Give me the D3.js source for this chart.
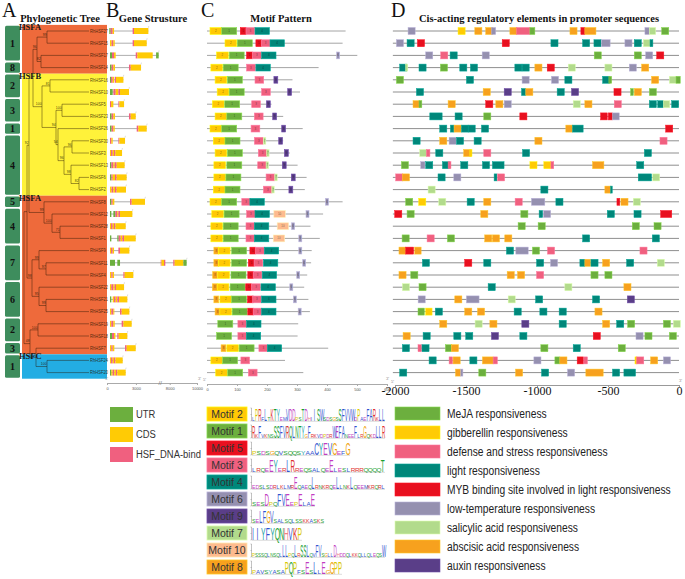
<!DOCTYPE html>
<html><head><meta charset="utf-8">
<script src="https://cdn.jsdelivr.net/npm/d3@7"></script>
<style>body{margin:0;background:#fff}svg{display:block}</style>
</head><body><svg id="c" width="685" height="579"></svg>
<script>
// ---------------- DATA ----------------
const genes = ["RhHSF27","RhHSF15","RhHSF17","RhHSF14","RhHSF16","RhHSF10","RhHSF5","RhHSF23","RhHSF26","RhHSF30","RhHSF3","RhHSF13","RhHSF6","RhHSF2","RhHSF8","RhHSF12","RhHSF28","RhHSF1","RhHSF9","RhHSF11","RhHSF4","RhHSF22","RhHSF21","RhHSF25","RhHSF19","RhHSF18","RhHSF7","RhHSF24","RhHSF20"];
const cladeBands = [["HSFA",0,3],["HSFB",4,13],["HSFA",14,26],["HSFC",27,28]];
const subGroups = [["1",0,2],["8",3,3],["2",4,5],["3",6,7],["1",8,8],["4",9,13],["5",14,14],["4",15,17],["7",18,20],["6",21,23],["2",24,25],["3",26,26],["1",27,28]];
// tree: d = node depth, b = bootstrap
const tree = {d:4,b:"",c:[
  {d:7,b:"",c:[
    {d:9,b:"92",c:[
      {d:13,b:"83",c:[
        {d:17,b:"96",c:[{d:27,b:"99",c:["RhHSF27","RhHSF15"]},{d:21,b:"82",c:["RhHSF17","RhHSF14"]}]},
        {d:22,b:"100",c:[
          {d:30,b:"81",c:["RhHSF16","RhHSF10"]},
          {d:36,b:"94",c:[
            {d:42,b:"100",c:["RhHSF5","RhHSF23"]},
            {d:38,b:"54",c:["RhHSF26",
              {d:44,b:"96",c:[{d:52,b:"96",c:["RhHSF30","RhHSF3"]},{d:51,b:"98",c:["RhHSF13",{d:59,b:"82",c:["RhHSF6","RhHSF2"]}]}]}]}]}]}]},
      {d:24,b:"99",c:["RhHSF8",{d:32,b:"100",c:["RhHSF12",{d:40,b:"71",c:["RhHSF28","RhHSF1"]}]}]}]},
    {d:12,b:"98",c:[
      {d:19,b:"99",c:["RhHSF9",{d:26,b:"97",c:["RhHSF11","RhHSF4"]}]},
      {d:19,b:"95",c:["RhHSF22",{d:26,b:"99",c:["RhHSF21","RhHSF25"]}]}]}]},
  {d:10,b:"48",c:[
    {d:18,b:"100",c:["RhHSF19","RhHSF18"]},
    {d:16,b:"42",c:["RhHSF7",{d:27,b:"100",c:["RhHSF24","RhHSF20"]}]}]}]};
const leafDepth = 69;

// gene structure: [start, end, type] in bp; U = UTR, C = CDS, H = HSF_DNA-bind
const geneStructure = [
 [[240,380,"U"],[380,590,"H"],[590,730,"C"],[2660,2800,"H"],[2800,4290,"C"]],
 [[310,480,"C"],[480,660,"H"],[660,800,"C"],[2660,2800,"H"],[2800,4120,"C"]],
 [[310,520,"U"],[520,730,"H"],[730,900,"C"],[2980,3150,"H"],[3150,4740,"C"],[5090,5360,"U"]],
 [[310,480,"U"],[480,660,"H"],[660,830,"C"],[2280,2460,"H"],[2460,3530,"C"]],
 [[310,420,"U"],[420,590,"H"],[590,730,"C"],[800,930,"H"],[930,1700,"C"]],
 [[310,590,"U"],[660,900,"H"],[900,1180,"C"],[1180,1350,"H"],[1350,2280,"C"]],
 [[310,420,"H"],[420,660,"C"],[1180,1280,"H"],[1280,1770,"C"]],
 [[310,480,"U"],[480,660,"H"],[660,830,"C"],[2280,2460,"H"],[2460,2980,"C"]],
 [[310,480,"U"],[480,660,"H"],[660,800,"C"],[3080,3250,"H"],[3250,4120,"C"]],
 [[310,450,"H"],[450,590,"C"],[1180,1280,"H"],[1280,1870,"C"]],
 [[310,420,"C"],[420,590,"H"],[590,730,"C"],[730,870,"H"],[870,1560,"C"]],
 [[310,450,"U"],[450,660,"H"],[660,800,"C"],[800,1000,"H"],[1000,1830,"C"]],
 [[310,450,"U"],[450,590,"H"],[590,830,"C"],[830,1000,"H"],[1000,2040,"C"]],
 [[310,480,"C"],[480,660,"H"],[660,830,"C"],[830,1000,"H"],[1000,1970,"C"]],
 [[310,450,"U"],[450,590,"H"],[590,760,"C"],[2390,2560,"H"],[2560,3940,"C"]],
 [[310,450,"U"],[660,870,"U"],[870,1070,"H"],[1070,1180,"C"],[1180,1350,"H"],[1350,2630,"C"]],
 [[310,420,"C"],[420,590,"H"],[590,730,"C"],[730,870,"H"],[870,1940,"C"]],
 [[310,450,"U"],[1070,1210,"U"],[1210,1420,"H"],[1420,1590,"C"],[1590,1770,"H"],[1770,2980,"C"]],
 [[310,420,"C"],[420,590,"H"],[590,730,"C"],[1180,1350,"H"],[1350,2320,"C"]],
 [[310,830,"U"],[1070,1350,"U"],[5570,5800,"H"],[5800,6700,"C"],[6700,7180,"H"],[8260,8360,"H"],[8360,9000,"C"],[9000,9240,"U"]],
 [[310,450,"C"],[450,590,"H"],[590,730,"C"],[1700,1830,"H"],[1830,2730,"C"]],
 [[310,450,"C"],[450,660,"H"],[660,800,"C"],[800,930,"H"],[930,1770,"C"]],
 [[310,450,"U"],[590,730,"C"],[730,900,"H"],[900,1070,"C"],[1070,1250,"H"],[1250,2110,"C"]],
 [[310,450,"C"],[450,660,"H"],[660,760,"C"],[1350,1520,"H"],[1520,2320,"C"]],
 [[310,450,"C"],[450,660,"H"],[660,800,"C"],[1520,1700,"H"],[1700,2560,"C"]],
 [[310,520,"U"],[520,730,"H"],[730,870,"C"],[1070,1210,"H"],[1210,2110,"C"]],
 [[310,450,"C"],[450,590,"H"],[590,760,"C"],[1870,2040,"H"],[2040,2980,"C"]],
 [[310,420,"C"],[420,590,"H"],[590,730,"C"],[730,870,"H"],[870,1630,"C"]],
 [[310,450,"U"],[450,590,"C"],[590,760,"H"],[760,930,"C"],[930,1070,"H"],[1070,1940,"C"]]
];
const geneTicks = [0,3000,8000,10000];
const geneLegend = ["UTR","CDS","HSF_DNA-bind"];

// motifs
const motifOrder = [2,1,5,3,4,6,9,7,10,8];
const motifLength = {1:50,2:39,3:29,4:48,5:19,6:10,7:8,8:16,9:13,10:38};
const proteinLength = [462,452,501,372,285,310,215,254,319,254,276,302,332,326,452,387,345,376,349,347,334,324,338,343,304,302,404,260,321];
const motifSites = [
 [[2,10],[1,49],[5,111],[3,130],[4,160]],
 [[2,60],[1,101],[5,163],[3,181],[4,210]],
 [[2,32],[1,74],[5,132],[3,152],[4,182],[6,432]],
 [[2,13],[1,54],[3,132],[4,163]],
 [[2,27],[1,68],[3,160],[9,223]],
 [[2,34],[1,74],[3,182],[9,269]],
 [[2,18],[1,59],[3,149],[9,198]],
 [[2,27],[1,66],[3,158],[9,219]],
 [[2,10],[1,49],[3,147],[9,249]],
 [[2,21],[1,60],[3,158],[7,188],[9,239]],
 [[2,27],[1,68],[3,171],[7,199],[9,258]],
 [[2,23],[1,66],[3,169],[7,197],[9,251]],
 [[2,23],[1,63],[3,197],[7,226],[9,281]],
 [[2,21],[1,60],[3,188],[7,216],[9,273]],
 [[2,10],[1,49],[3,116],[4,143],[6,395]],
 [[2,16],[1,57],[3,132],[4,160],[10,223],[6,330]],
 [[2,13],[1,54],[3,130],[4,158],[10,234],[6,282]],
 [[2,13],[1,54],[3,130],[4,158],[10,221],[6,306]],
 [[8,23],[2,38],[1,82],[5,143],[3,162],[4,191],[6,306]],
 [[8,23],[2,38],[1,82],[5,138],[3,157],[4,188],[6,319]],
 [[8,19],[2,36],[1,80],[5,136],[3,154],[4,184],[6,299]],
 [[8,18],[2,34],[1,77],[5,129],[3,149],[4,180],[6,276]],
 [[8,23],[2,43],[1,82],[5,135],[3,152],[4,182],[6,288]],
 [[8,27],[2,43],[1,84],[5,136],[3,154],[4,182],[6,304]],
 [[1,36],[3,103],[4,132]],
 [[1,32],[3,103],[4,131]],
 [[8,47],[2,66],[1,107],[3,173],[4,201]],
 [[2,13],[1,52],[3,113]],
 [[2,29],[1,69],[3,138]]
];
const motifTicks = [0,100,200,300,400,500,600];
// sequence logos (upper case = tall position, lower case = low information)
const motifLogos = {
 2:"lPRfLtKTYemVDDpsTDhiISWsdsgsSFVVWdPaeFARkLL",
 1:"RkFvknsSSFVRQLNTYgFrkvdpdrWEFAneeFlrGqkdLLR",
 5:"psdsgqvsqqsyaaCYEVGefG",
 3:"lrqeEYerLRreqsalqeEleslrrrqqqqT",
 4:"edslsdrlklmrEqaeqLrnkrqeLlnkLqeemkrqrl",
 6:"sesDpqFVEepElaE",
 9:"seLFGVsalsqlsskkasks",
 7:"IIYFYQNHVKP",
 10:"psssqlnsqlLLpqLrSSLqvFVsgllDhddqlkkqllqleqsW",
 8:"pavsyasaPQPfsEsLlEgGPP"
};

// cis-acting elements
const cisTypes = ["M","G","D","L","Y","T","S","A","X"];
const cisNames = ["MeJA responsiveness","gibberellin responsiveness","defense and stress responsiveness","light responsiveness","MYB binding site involved in light responsiveness","low-temperature responsiveness","salicylic acid responsiveness","abscisic acid responsiveness","auxin responsiveness"];
// [type, start (bp upstream), width bp (default 50)]
const cisElements = [
 [["T",-1908],["G",-1556],["A",-1438],["A",-1361],["T",-1321,30],["A",-1191],["D",-1144,95],["M",-1050,35],["A",-768],["Y",-691,28],["A",-663,78],["T",-240,30],["S",-209,45],["M",-122]],
 [["T",-1990],["L",-1915],["Y",-1842],["Y",-1245],["L",-902],["L",-679],["L",-599],["T",-545,60],["T",-381],["L",-315],["S",-251],["L",-204,20]],
 [["T",-1784],["D",-1678],["L",-1612],["T",-1386],["M",-597],["M",-315],["T",-235],["Y",-157]],
 [["L",-1967],["S",-1925,15],["L",-1831],["M",-1680],["L",-1544],["L",-1469],["L",-1156],["L",-1105],["A",-1015],["Y",-928],["S",-780],["S",-522],["T",-350],["A",-263]],
 [["M",-1990],["L",-1497],["T",-1105],["T",-898],["L",-804],["L",-538],["M",-494,20],["A",-193],["S",-68],["M",-21,30]],
 [["L",-1849],["A",-1379],["X",-1231],["L",-1109,30],["A",-1079],["L",-858],["X",-757],["Y",-458],["M",-341,20],["A",-315],["M",-209]],
 [["A",-1873],["M",-1831,20],["A",-1626],["Y",-1361],["A",-1290],["T",-1231],["S",-745],["A",-663],["D",-456],["L",-209],["L",-150,40],["S",-110,45],["L",-52]],
 [["L",-1755,87],["L",-1577],["M",-1375],["Y",-1121],["Y",-552,47],["Y",-498,30],["T",-468,47]],
 [["L",-1685],["L",-1610,25],["A",-1584],["L",-1532],["L",-1485],["L",-1391],["A",-797,47],["L",-750,75],["Y",-94]],
 [["L",-1873],["A",-1685],["T",-1619],["L",-1567],["L",-1443],["A",-1015],["D",-134]],
 [["S",-1826],["D",-1779,25],["L",-1713],["A",-1516],["G",-1473,15],["D",-1375],["L",-1102],["L",-244]],
 [["M",-1955],["T",-1819,30],["L",-1784],["L",-1666],["D",-1626,20],["L",-1537],["L",-1384],["L",-1314,82],["G",-1050],["G",-952],["D",-902,20],["A",-609,80],["L",-298]],
 [["D",-1995],["A",-1948],["L",-1697],["T",-1586],["L",-1302,20],["D",-1278],["L",-287,94],["S",-186]],
 [["S",-1767],["L",-973],["A",-522,40],["L",-482,12]],
 [["M",-1925],["G",-1833],["S",-1692],["L",-1492],["A",-1375],["D",-1154],["T",-1039,94],["L",-867],["Y",-437,20],["A",-409],["S",-322]],
 [["Y",-2002],["M",-1915],["A",-1396],["M",-1114],["L",-985,25],["T",-954],["L",-505],["L",-317],["Y",-129,78]],
 [["M",-1133],["M",-992],["M",-329],["M",-176]],
 [["M",-1950],["D",-1774],["M",-1631],["A",-1368],["A",-1314],["A",-1227],["L",-679],["L",-188]],
 [["A",-1972,47],["Y",-1925,56],["A",-1861,45],["L",-1215],["T",-1149,87],["M",-1032],["D",-926],["D",-275]],
 [["L",-1807],["Y",-1509],["L",-1375],["L",-1003],["T",-905],["L",-698,35],["A",-663,40],["L",-620],["A",-538],["L",-369],["S",-153]],
 [["A",-1972],["M",-1889],["A",-1210],["A",-1137],["D",-1003],["M",-620],["M",-522]],
 [["S",-1948],["M",-1831],["L",-1344],["S",-804],["A",-388]],
 [["T",-1837],["A",-1579],["T",-1497,89],["S",-1203],["L",-1010],["L",-609],["X",-364]],
 [["M",-1838,45],["G",-1784,45],["L",-1716],["A",-1509],["A",-1419],["L",-1161],["L",-980],["L",-844],["A",-592]],
 [["A",-1685],["S",-1436],["A",-1332],["X",-1107],["L",-844],["A",-538],["L",-439],["M",-362],["M",-110],["S",-40]],
 [["A",-1943],["L",-1802],["L",-1586],["L",-1502],["X",-1321],["L",-1121],["Y",-604],["T",-303],["M",-240],["M",-68]],
 [["L",-1948],["D",-1838,25],["L",-1810],["M",-1645,42],["A",-1603],["M",-973],["L",-745],["M",-428]],
 [["L",-1760],["D",-1619,25],["A",-1591],["L",-1473],["A",-1384,75],["D",-1309,30],["T",-1022],["M",-874,35],["A",-839],["Y",-717,45],["D",-670,25],["G",-310,15],["D",-298],["A",-200],["T",-110]],
 [["L",-1967],["A",-1574,37],["T",-1537,15],["M",-1410],["A",-1151],["L",-968],["T",-785],["A",-656,122],["L",-468],["L",-388,82]]
];
const cisTicks = [-2000,-1500,-1000,-500,0];

// ---------------- STYLE ----------------
const serif = "'Liberation Serif','Times New Roman',serif";
const sans = "'Liberation Sans',Arial,sans-serif";
const bandColor = {HSFA:"#EE6A3B",HSFB:"#FFF23A",HSFC:"#23ADE3"};
const structColor = {U:"#6CAF3E",C:"#FFCB05",H:"#F0607F"};
const motifColor = {2:"#FFC905",1:"#6CAF3E",5:"#E8101F",3:"#F0607F",4:"#00877A",6:"#9590B0",9:"#5A3E88",7:"#B2DB8C",10:"#FDBB8E",8:"#F7A11E"};
const cisColor = {M:"#6CAF3E",G:"#FFCB05",D:"#F0607F",L:"#00877A",Y:"#E8101F",T:"#9590B0",S:"#B2DB8C",A:"#F7A11E",X:"#5A3E88"};
const aaColor = c => {c=c.toUpperCase();
  if ("ACFILMVW".includes(c)) return "#2F52CF";
  if ("NQST".includes(c)) return "#18A030";
  if ("DE".includes(c)) return "#C23BC2";
  if ("KR".includes(c)) return "#E0302E";
  if (c==="H") return "#F08080";
  if (c==="G") return "#F0A000";
  if (c==="P") return "#D8C800";
  return "#15A0A5";};

const svg = d3.select("#c");
const y = d3.scalePoint().domain(genes).range([31,372.6]);
const rowH = y.step();

function narrowText(g, x, yy, str, size, fill, anchor, sx){
  return g.append("text").attr("transform",`translate(${x},${yy}) scale(${sx||0.82},1)`)
    .attr("font-family",sans).attr("font-size",size).attr("fill",fill||"#222")
    .attr("text-anchor",anchor||"start").text(str);
}

// panel letters and titles
[["A",2],["B",106],["C",201],["D",391]].forEach(([t,x])=>{
  svg.append("text").attr("x",x).attr("y",17).attr("font-family",serif).attr("font-size",20).attr("fill","#111").text(t);
});
[["Phylogenetic Tree",60],["Gene Strusture",153],["Motif Pattern",281],["Cis-acting regulatory elements in promoter sequences",539]].forEach(([t,x])=>{
  svg.append("text").attr("x",x).attr("y",22).attr("text-anchor","middle").attr("font-family",serif)
    .attr("font-weight","bold").attr("font-size",10.5).attr("fill","#111").text(t);
});

// ---------------- PANEL A ----------------
const gA = svg.append("g");
const tx = d3.scaleLinear().domain([0,70]).range([20,90]);
cladeBands.forEach(([name,a,b])=>{
  const y0 = y(genes[a])-rowH/2, y1 = y(genes[b])+rowH/2;
  gA.append("rect").attr("x",22).attr("y",y0).attr("width",85).attr("height",y1-y0).attr("fill",bandColor[name]);
});
subGroups.forEach(([lab,a,b])=>{
  const y0 = y(genes[a])-rowH/2+0.9, y1 = y(genes[b])+rowH/2-0.9;
  gA.append("rect").attr("x",5).attr("y",y0).attr("width",15).attr("height",y1-y0).attr("fill","#3E8D5D").attr("rx",1.5);
  gA.append("text").attr("x",12.5).attr("y",(y0+y1)/2+3.5).attr("text-anchor","middle").attr("font-family",serif)
    .attr("font-weight","bold").attr("font-size",10).attr("fill","#111").text(lab);
});
const root = d3.hierarchy(tree, d => typeof d === "string" ? null : d.c);
root.eachAfter(n=>{
  if (!n.children){ n.py = y(n.data); n.px = tx(leafDepth); }
  else { n.py = (n.children[0].py + n.children[n.children.length-1].py)/2; n.px = tx(n.data.d); }
});
const lineCol = "rgba(40,20,0,0.55)";
root.each(n=>{
  if (!n.children) return;
  gA.append("line").attr("x1",n.px).attr("x2",n.px).attr("y1",n.children[0].py).attr("y2",n.children[n.children.length-1].py)
    .attr("stroke",lineCol).attr("stroke-width",0.8);
  n.children.forEach(ch=>{
    gA.append("line").attr("x1",n.px).attr("x2",ch.px).attr("y1",ch.py).attr("y2",ch.py).attr("stroke",lineCol).attr("stroke-width",0.8);
  });
});
root.each(n=>{
  if (n.children && n.data.b) narrowText(gA, n.px-0.4, n.py-1.2, n.data.b, 4.2, "rgba(30,15,0,0.85)", "end");
});
root.leaves().forEach(l=>{ narrowText(gA, tx(70), l.py+1.7, l.data, 5, "rgba(40,20,0,0.8)"); });
cladeBands.forEach(([name,a])=>{
  const y0 = y(genes[a])-rowH/2;
  gA.append("text").attr("x",19).attr("y",y0+5).attr("font-family",serif).attr("font-weight","bold")
    .attr("font-size",8.5).attr("fill","#1a1a1a").text(name);
});

// ---------------- PANEL B ----------------
const gB = svg.append("g");
const gx = d3.scaleLinear().domain([0,5600,7800,10000]).range([107,161,167,197]);
geneStructure.forEach((ex,i)=>{
  const yy = y(genes[i]);
  const s = d3.min(ex,d=>d[0]), e = d3.max(ex,d=>d[1]);
  gB.append("line").attr("x1",gx(s)).attr("x2",gx(e)).attr("y1",yy).attr("y2",yy).attr("stroke","#999").attr("stroke-width",0.8);
  ex.forEach(([a,b,t])=>{
    gB.append("rect").attr("x",gx(a)).attr("y",yy-3).attr("width",Math.max(0.6,gx(b)-gx(a))).attr("height",6)
      .attr("fill",structColor[t]);
  });
  gB.append("line").attr("x1",gx(e)).attr("x2",gx(e)+0.4).attr("y1",yy-3.2).attr("y2",yy-5).attr("stroke","#bbb").attr("stroke-width",0.5);
});
const axB = gB.append("g").attr("transform","translate(0,383)")
  .call(d3.axisBottom(gx).tickValues(geneTicks).tickSize(2).tickSizeOuter(0).tickFormat(d=>String(d)));
axB.select(".domain").attr("stroke","#aaa");
axB.selectAll(".tick line").attr("stroke","#aaa");
axB.selectAll("text").attr("font-size",4).attr("font-family",sans).attr("fill","#555").attr("dy","0.4em");
gB.append("text").attr("x",158.5).attr("y",385).attr("font-size",6).attr("font-family",sans).attr("fill","#777").text("//");
gB.append("text").attr("x",105).attr("y",380).attr("font-size",4.5).attr("font-family",serif).attr("fill","#777").text("5'");
gB.append("text").attr("x",198).attr("y",380).attr("font-size",4.5).attr("font-family",serif).attr("fill","#777").text("3'");

// ---------------- PANEL C ----------------
const gC = svg.append("g");
const mx = d3.scaleLinear().domain([0,600]).range([207,387]);
proteinLength.forEach((len,i)=>{
  const yy = y(genes[i]);
  gC.append("line").attr("x1",mx(0)).attr("x2",mx(len)).attr("y1",yy).attr("y2",yy).attr("stroke","#9a9a9a").attr("stroke-width",0.9);
  motifSites[i].forEach(([m,s])=>{
    const c = motifColor[m];
    gC.append("rect").attr("x",mx(s)).attr("y",yy-3.4).attr("width",mx(s+motifLength[m])-mx(s)).attr("height",6.8)
      .attr("fill",c).attr("stroke",d3.color(c).brighter(0.7)).attr("stroke-width",0.6);
    gC.append("text").attr("x",mx(s+motifLength[m]/2)).attr("y",yy+1).attr("text-anchor","middle")
      .attr("font-size",3).attr("font-family",sans).attr("fill","rgba(0,0,0,0.5)").text(m);
  });
});
const axC = gC.append("g").attr("transform","translate(0,384)")
  .call(d3.axisBottom(mx).tickValues(motifTicks).tickSize(2).tickSizeOuter(0));
axC.select(".domain").attr("stroke","#aaa");
axC.selectAll(".tick line").attr("stroke","#aaa");
axC.selectAll("text").attr("font-size",4).attr("font-family",sans).attr("fill","#555").attr("dy","0.4em");
gC.append("text").attr("x",203).attr("y",381).attr("font-size",4.5).attr("font-family",serif).attr("fill","#777").text("5'");
gC.append("text").attr("x",386).attr("y",380).attr("font-size",4.5).attr("font-family",serif).attr("fill","#777").text("3'");

// ---------------- PANEL D ----------------
const gD = svg.append("g");
const cx = d3.scaleLinear().domain([-2000,0]).range([395,679]);
cisElements.forEach((row,i)=>{
  const yy = y(genes[i]);
  gD.append("line").attr("x1",cx(-2015)).attr("x2",cx(0)).attr("y1",yy).attr("y2",yy).attr("stroke","#8f8f8f").attr("stroke-width",1);
  row.forEach(([t,s,w])=>{
    const c = cisColor[t]; const ww = w||50;
    gD.append("rect").attr("x",cx(s)).attr("y",yy-3.5).attr("width",cx(s+ww)-cx(s)).attr("height",7)
      .attr("fill",c).attr("stroke",d3.color(c).brighter(0.6)).attr("stroke-width",0.5);
  });
});
const axD = gD.append("g").attr("transform","translate(0,385)")
  .call(d3.axisBottom(cx).tickValues(cisTicks).tickSize(2).tickSizeOuter(0).tickFormat(d=>String(d)));
axD.select(".domain").attr("stroke","#999");
axD.selectAll(".tick line").attr("stroke","#999");
axD.selectAll("text").attr("font-size",12).attr("font-family",serif).attr("fill","#111").attr("dy","0.45em");
gD.append("text").attr("x",391).attr("y",383).attr("font-size",4.5).attr("font-family",serif).attr("fill","#777").text("5'");
gD.append("text").attr("x",679).attr("y",382).attr("font-size",4.5).attr("font-family",serif).attr("fill","#777").text("3'");

// ---------------- LEGENDS ----------------
const gL = svg.append("g");
geneLegend.forEach((t,i)=>{
  const yy = 407+i*20;
  gL.append("rect").attr("x",110).attr("y",yy).attr("width",23).attr("height",15).attr("fill",structColor["UCH"[i]]);
  narrowText(gL,136,yy+11,t,11.5,"#333");
});
motifOrder.forEach((m,i)=>{
  const yy = 407+i*17, c = motifColor[m];
  gL.append("rect").attr("x",207).attr("y",yy).attr("width",40).attr("height",14).attr("fill",c)
    .attr("stroke",d3.color(c).brighter(0.6)).attr("stroke-width",0.8);
  gL.append("text").attr("x",227).attr("y",yy+11).attr("text-anchor","middle").attr("font-family",sans)
    .attr("font-size",10.5).attr("fill","#333").text("Motif "+m);
  // logo
  const str = motifLogos[m];
  const span = {2:133,1:133,5:98,3:133,4:133,6:63,9:72,7:50,10:133,8:90}[m];
  const x0 = 252, base = yy+14, lw = span/str.length;
  gL.append("line").attr("x1",x0-0.5).attr("x2",x0-0.5).attr("y1",yy+1).attr("y2",base).attr("stroke","#666").attr("stroke-width",0.4);
  [yy+1,yy+7.5,base].forEach(t=>gL.append("line").attr("x1",x0-1.5).attr("x2",x0-0.5).attr("y1",t).attr("y2",t).attr("stroke","#666").attr("stroke-width",0.4));
  str.split("").forEach((ch,k)=>{
    const big = ch === ch.toUpperCase();
    const h = big ? 12.5 : 3.8;
    gL.append("text").attr("transform",`translate(${x0+k*lw},${base}) scale(${lw/6.7},${h/7.2})`)
      .attr("font-family",sans).attr("font-size",10).attr("fill",aaColor(ch)).text(ch.toUpperCase());
  });
  gL.append("line").attr("x1",x0).attr("x2",x0+span).attr("y1",base+0.3).attr("y2",base+0.3).attr("stroke","#888").attr("stroke-width",0.3);
});
cisNames.forEach((t,i)=>{
  const yy = 407+i*19, c = cisColor[cisTypes[i]];
  gL.append("rect").attr("x",395).attr("y",yy).attr("width",45).attr("height",13).attr("fill",c)
    .attr("stroke",d3.color(c).brighter(0.6)).attr("stroke-width",0.6);
  narrowText(gL,447,yy+11,t,12.5,"#222");
});
</script></body></html>
